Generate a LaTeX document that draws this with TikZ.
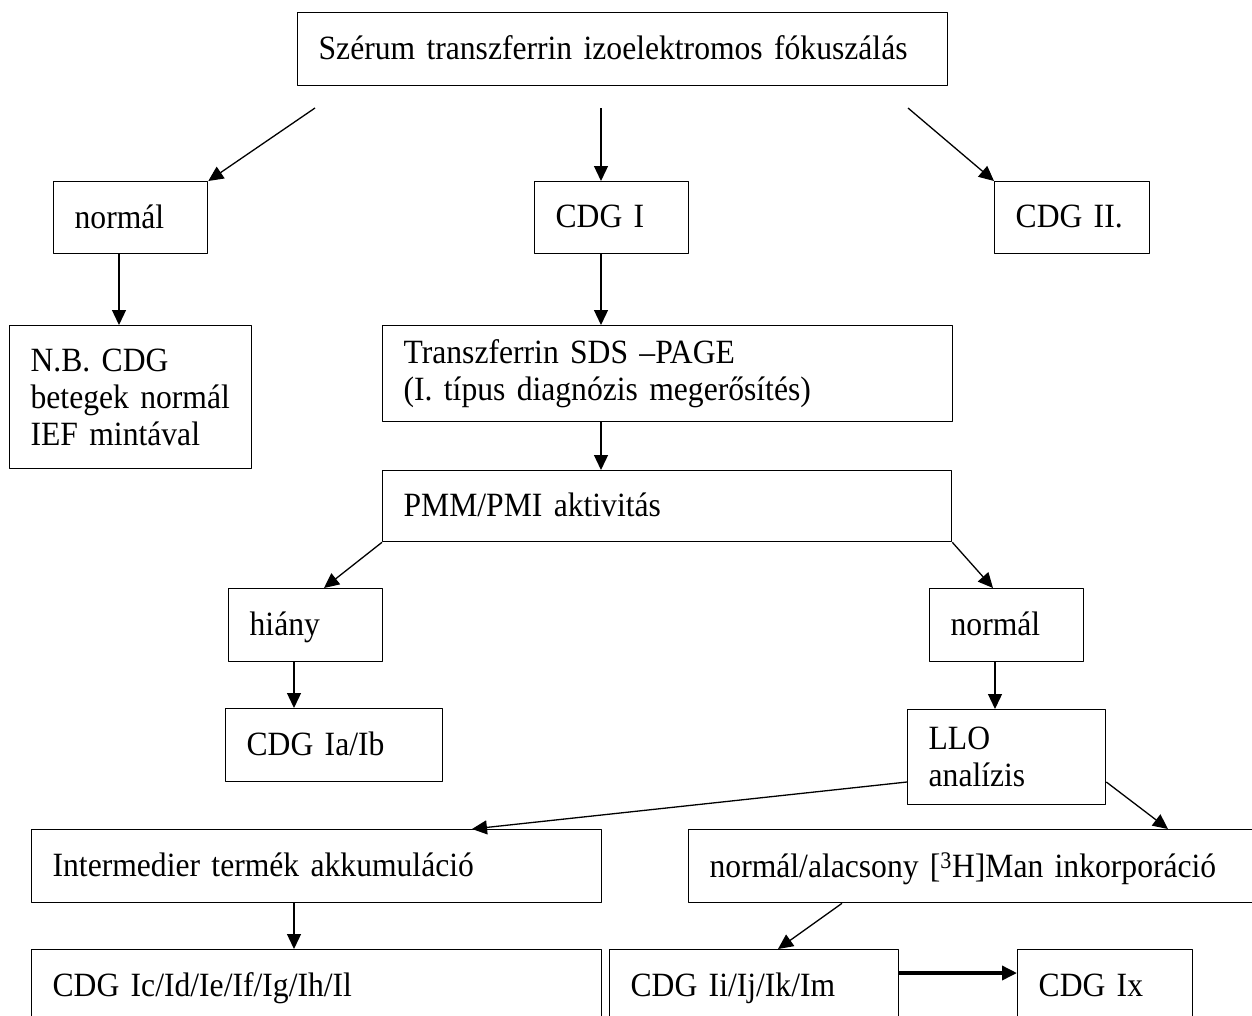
\documentclass[tikz,border=0pt]{standalone}
\usepackage{fontspec}
\setmainfont[FakeStretch=0.93,WordSpace=0.8]{Liberation Serif}
\usetikzlibrary{arrows.meta}

\begin{document}
\begin{tikzpicture}[>={Triangle[length=15bp,width=14bp]},line join=bevel,
    font=\fontsize{34bp}{37bp}\selectfont,
    box/.style={draw,rectangle,line width=1.3bp,anchor=north west,align=left,
        inner xsep=21bp,inner ysep=0bp},
    onebox/.style={box,text depth=.25em},
    link/.style={->,line width=1.3bp},
    boldlink/.style={->,line width=3.5bp},]
    %%
    \useasboundingbox [fill=white] (0bp,0bp) rectangle (1252bp,-1016bp);
    \clip (0bp,0bp) rectangle (1252bp,-1016bp);
    \node (serum) at (297bp,-12bp) [onebox,text width=608bp,minimum height=73bp] {Szérum transzferrin izoelektromos fókuszálás};
    \node (normal) at (53bp,-181bp) [onebox,text width=112bp,minimum height=72bp] {normál};
    \node (cdgI) at (534bp,-181bp) [onebox,text width=112bp,minimum height=72bp] {CDG I};
    \node (cdgII) at (994bp,-181bp) [onebox,text width=113bp,minimum height=72bp] {CDG II.};
    \node (nb) at (9bp,-325bp) [box,text width=200bp,minimum height=143bp] {N.B. CDG\\betegek normál\\IEF mintával};
    \node (sds) at (382bp,-325bp) [box,text width=528bp,minimum height=96bp] {Transzferrin SDS –PAGE\\(I. típus diagnózis megerősítés)};
    \node (pmm) at (382bp,-470bp) [onebox,text width=527bp,minimum height=71bp] {PMM/PMI aktivitás};
    \node (hiany) at (228bp,-588bp) [onebox,text width=112bp,minimum height=73bp] {hiány};
    \node (normalb) at (929bp,-588bp) [onebox,text width=112bp,minimum height=73bp] {normál};
    \node (cdgIab) at (225bp,-708bp) [onebox,text width=175bp,minimum height=73bp] {CDG Ia/Ib};
    \node (llo) at (907bp,-709bp) [box,text width=156bp,minimum height=95bp] {LLO\\analízis};
    \node (interm) at (31bp,-829bp) [onebox,text width=528bp,minimum height=73bp] {Intermedier termék akkumuláció};
    \node (manink) at (688bp,-829bp) [onebox,text width=560bp,minimum height=73bp] {normál/alacsony [\textsuperscript{3}H]Man inkorporáció};
    \node (cdgIc) at (31bp,-949bp) [onebox,text width=528bp,minimum height=73bp] {CDG Ic/Id/Ie/If/Ig/Ih/Il};
    \node (cdgIi) at (609bp,-949bp) [onebox,text width=247bp,minimum height=73bp] {CDG Ii/Ij/Ik/Im};
    \node (cdgIx) at (1017bp,-949bp) [onebox,text width=133bp,minimum height=73bp] {CDG Ix};
    \coordinate (s1) at (315bp,-108bp);
    \coordinate (s2) at (601bp,-108bp);
    \coordinate (s3) at (908bp,-108bp);
    \draw [link] (s1) -- (normal.north east);
    \draw [link] (s2) -- (s2 |- cdgI.north);
    \draw [link] (s3) -- (cdgII.north west);
    \draw [link] (119bp,0bp |- normal.south) -- (119bp,0bp |- nb.north);
    \draw [link] (601bp,0bp |- cdgI.south) -- (601bp,0bp |- sds.north);
    \draw [link] (601bp,0bp |- sds.south) -- (601bp,0bp |- pmm.north);
    \draw [link] (pmm.south west) -- (324bp,0bp |- hiany.north);
    \draw [link] (pmm.south east) -- (993bp,0bp |- normalb.north);
    \draw [link] (294bp,0bp |- hiany.south) -- (294bp,0bp |- cdgIab.north);
    \draw [link] (995bp,0bp |- normalb.south) -- (995bp,0bp |- llo.north);
    \draw [link] (llo.west |- 0bp,-782bp) -- (472bp,0bp |- interm.north);
    \draw [link] (llo.east |- 0bp,-782bp) -- (1168bp,0bp |- manink.north);
    \draw [link] (294bp,0bp |- interm.south) -- (294bp,0bp |- cdgIc.north);
    \draw [link] (842bp,0bp |- manink.south) -- (778bp,0bp |- cdgIi.north);
    \draw [boldlink] (cdgIi.east |- 0bp,-973bp) -- (cdgIx.west |- 0bp,-973bp);
    %
\end{tikzpicture}
\end{document}
